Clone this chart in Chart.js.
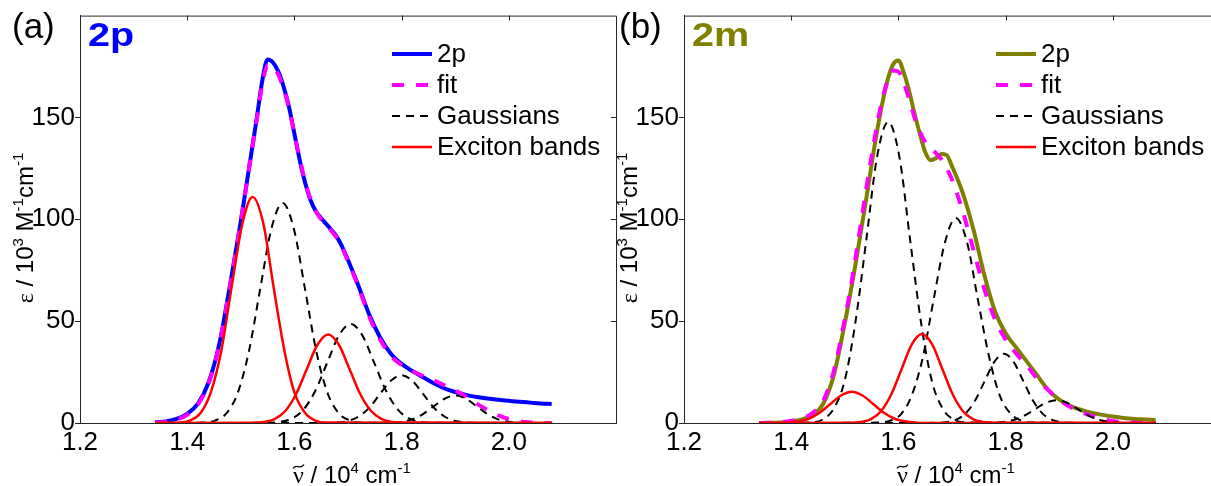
<!DOCTYPE html>
<html>
<head>
<meta charset="utf-8">
<script src="https://cdn.jsdelivr.net/npm/chart.js@4.4.1/dist/chart.umd.min.js"></script>
<style>
  html, body { margin: 0; padding: 0; background: #fff; overflow: hidden; }
  #wrap { position: relative; width: 1211px; height: 486px; overflow: hidden; background: #fff; }
  #wrap canvas { position: absolute; top: 0; }
  #chartA { left: 0; }
  #chartB { left: 604px; }
</style>
</head>
<body>
<div id="wrap">
  <canvas id="chartA" width="620" height="486"></canvas>
  <canvas id="chartB" width="620" height="486"></canvas>
</div>
<script>
// axis ticks
const xTicks = [1.2, 1.4, 1.6, 1.8, 2.0]
const yTicks = [0, 50, 100, 150]

// wavenumber grid (10^4 cm-1) for the measured spectra and the fits
const xGrid = [1.34, 1.36, 1.38, 1.40, 1.42, 1.44, 1.46, 1.48,
  1.50, 1.51, 1.52, 1.53, 1.54, 1.55, 1.56, 1.57, 1.58, 1.59, 1.60,
  1.61, 1.62, 1.63, 1.64, 1.65, 1.66, 1.67, 1.68, 1.69, 1.70,
  1.72, 1.74, 1.76, 1.78, 1.80, 1.82, 1.84, 1.86, 1.88, 1.90,
  1.92, 1.94, 1.96, 1.98, 2.00, 2.02, 2.04, 2.06, 2.08]

// (a) 2p
const spectrumA = [0.3, 0.8, 2, 4.5, 9.5, 20, 39, 68,
  99, 116, 133, 150, 168, 178.5, 177, 172.5, 165, 155, 142,
  129, 118, 109.5, 104, 100.5, 97.5, 94.5, 91, 86, 80,
  67, 53, 42, 34, 29, 25.5, 22.5, 19.5, 17, 15.2,
  13.8, 12.8, 12, 11.4, 10.9, 10.4, 10, 9.6, 9.3]
const fitA = [0.2, 0.6, 1.7, 4, 9, 19.5, 38.5, 67.5,
  99, 116, 133, 149.5, 166, 175.5, 175, 171, 164, 154.5, 142,
  129.5, 118.5, 110, 104, 100, 97, 94, 90.5, 85.5, 79.5,
  66.5, 52, 41, 33, 28.5, 25.5, 23, 21, 18.5, 16,
  13, 9.5, 6.5, 3.8, 2, 0.8, 0.3, 0.1, 0]

const aGauss1X = [1.34, 1.431, 1.452, 1.473, 1.494, 1.515, 1.536, 1.557, 1.578, 1.599, 1.62, 1.641, 1.662, 1.683, 1.704, 1.725, 2.08]
const aGauss1Y = [0, 0.2, 1.2, 4.7, 14.6, 35, 65.5, 95.3, 108, 95.3, 65.5, 35, 14.6, 4.7, 1.2, 0.2, 0]
const aGauss2X = [1.34, 1.551, 1.573, 1.595, 1.617, 1.639, 1.661, 1.683, 1.705, 1.727, 1.749, 1.771, 1.793, 1.815, 1.837, 1.859, 2.08]
const aGauss2Y = [0, 0.1, 0.5, 2.1, 6.6, 15.8, 29.5, 42.9, 48.6, 42.9, 29.5, 15.8, 6.6, 2.1, 0.5, 0.1, 0]
const aGauss3X = [1.34, 1.66, 1.68, 1.70, 1.72, 1.74, 1.76, 1.78, 1.80, 1.82, 1.84, 1.86, 1.88, 1.90, 1.92, 1.94, 2.08]
const aGauss3Y = [0, 0.05, 0.3, 1.0, 3.2, 7.6, 14.3, 20.7, 23.5, 20.7, 14.3, 7.6, 3.2, 1.0, 0.3, 0.05, 0]
const aGauss4X = [1.34, 1.76, 1.78, 1.80, 1.82, 1.84, 1.86, 1.88, 1.90, 1.92, 1.94, 1.96, 1.98, 2.00, 2.02, 2.04, 2.08]
const aGauss4Y = [0, 0.03, 0.15, 0.6, 1.8, 4.4, 8.2, 11.9, 13.5, 11.9, 8.2, 4.4, 1.8, 0.6, 0.15, 0.03, 0]
const aBand1X = [1.34, 1.386, 1.405, 1.425, 1.444, 1.464, 1.483, 1.503, 1.522, 1.542, 1.561, 1.581, 1.600, 1.620, 1.639, 1.659, 2.08]
const aBand1Y = [0, 0.2, 1.2, 4.9, 15, 36, 67, 98, 111, 98, 67, 36, 15, 4.9, 1.2, 0.2, 0]
const aBand2X = [1.34, 1.523, 1.543, 1.563, 1.583, 1.603, 1.623, 1.643, 1.663, 1.683, 1.703, 1.723, 1.743, 1.763, 1.783, 1.803, 2.08]
const aBand2Y = [0, 0.1, 0.5, 1.9, 5.9, 14.1, 26.4, 38.4, 43.5, 38.4, 26.4, 14.1, 5.9, 1.9, 0.5, 0.1, 0]

// (b) 2m
const spectrumB = [0, 0.1, 0.3, 0.8, 1.8, 4, 9.6, 24,
  49, 63, 78, 94, 110, 127, 143, 157, 168.5, 176, 178,
  172, 163, 152, 142, 133, 129, 130, 132, 131.5, 126,
  113, 95, 73, 55, 44, 37, 30, 23, 16, 11.5,
  8.5, 6.5, 5, 4, 3.2, 2.5, 2, 1.7, 1.4]
const fitB = [0, 0.1, 0.4, 1, 2.3, 5, 11, 26,
  51, 65, 81, 98, 115, 131, 146, 159, 168, 173, 172.5,
  167, 159, 150, 143, 138, 135, 132.5, 129.5, 125, 119.5,
  104, 85, 66, 51, 41, 34, 28, 21.5, 16, 11.5,
  8, 5.5, 3.5, 2, 1, 0.4, 0.1, 0, 0]

const bGauss1X = [1.34, 1.437, 1.458, 1.478, 1.499, 1.519, 1.540, 1.560, 1.581, 1.602, 1.622, 1.643, 1.663, 1.684, 1.704, 1.725, 2.08]
const bGauss1Y = [0, 0.3, 1.6, 6.5, 20, 48, 89.6, 130.4, 147.8, 130.4, 89.6, 48, 20, 6.5, 1.6, 0.3, 0]
const bGauss2X = [1.34, 1.564, 1.584, 1.605, 1.625, 1.646, 1.666, 1.687, 1.707, 1.728, 1.748, 1.769, 1.789, 1.810, 1.830, 1.851, 2.08]
const bGauss2Y = [0, 0.2, 1.1, 4.4, 13.6, 32.7, 61, 88.8, 100.6, 88.8, 61, 32.7, 13.6, 4.4, 1.1, 0.2, 0]
const bGauss3X = [1.34, 1.671, 1.689, 1.707, 1.725, 1.743, 1.761, 1.779, 1.797, 1.815, 1.833, 1.851, 1.869, 1.887, 1.905, 1.923, 2.08]
const bGauss3Y = [0, 0.07, 0.4, 1.5, 4.6, 11, 20.6, 30, 34, 30, 20.6, 11, 4.6, 1.5, 0.4, 0.07, 0]
const bGauss4X = [1.34, 1.755, 1.775, 1.795, 1.815, 1.835, 1.855, 1.875, 1.895, 1.915, 1.935, 1.955, 1.975, 1.995, 2.015, 2.035, 2.08]
const bGauss4Y = [0, 0.02, 0.12, 0.5, 1.5, 3.6, 6.8, 9.9, 11.2, 9.9, 6.8, 3.6, 1.5, 0.5, 0.12, 0.02, 0]
const bBand1X = [1.34, 1.373, 1.393, 1.413, 1.433, 1.453, 1.473, 1.493, 1.513, 1.533, 1.553, 1.573, 1.593, 1.613, 1.633, 1.653, 2.08]
const bBand1Y = [0, 0.03, 0.17, 0.7, 2.1, 5.0, 9.3, 13.5, 15.3, 13.5, 9.3, 5.0, 2.1, 0.7, 0.17, 0.03, 0]
const bBand2X = [1.34, 1.511, 1.530, 1.549, 1.568, 1.587, 1.606, 1.625, 1.644, 1.663, 1.682, 1.701, 1.720, 1.739, 1.758, 1.777, 2.08]
const bBand2Y = [0, 0.1, 0.5, 1.9, 5.9, 14.2, 26.5, 38.6, 43.7, 38.6, 26.5, 14.2, 5.9, 1.9, 0.5, 0.1, 0]

const SANS = '"Liberation Sans", Arial, sans-serif'
const SERIF = '"Liberation Serif", "Times New Roman", serif'
Chart.defaults.font.family = SANS
Chart.defaults.color = '#000'

function series(xs, ys) {
  return xs.map((x, i) => ({ x: x, y: ys[i] }))
}

// text with superscripts: parts = [[text, kind]], kind n = normal, s = sup, g = greek serif
function partFont(kind, size) {
  if (kind === 's') return Math.round(size * 0.62) + 'px ' + SANS
  if (kind === 'g') return size + 'px ' + SERIF
  return size + 'px ' + SANS
}
function richWidth(ctx, parts, size) {
  let w = 0
  parts.forEach(p => { ctx.font = partFont(p[1], size); w += ctx.measureText(p[0]).width })
  return w
}
function drawRich(ctx, parts, cx, y, size) {
  let x = cx - richWidth(ctx, parts, size) / 2
  const starts = []
  ctx.textAlign = 'left'
  ctx.textBaseline = 'alphabetic'
  parts.forEach(p => {
    ctx.font = partFont(p[1], size)
    const w = ctx.measureText(p[0]).width
    starts.push([x, w])
    ctx.fillText(p[0], x, p[1] === 's' ? y - size * 0.42 : y)
    x += w
  })
  return starts
}

const decor = {
  id: 'decor',
  beforeDatasetsDraw(chart) {
    const { ctx, chartArea: a, scales } = chart
    ctx.save()
    ctx.strokeStyle = '#262626'
    ctx.lineWidth = 1
    ctx.beginPath()
    ctx.moveTo(a.left, a.top + 0.5); ctx.lineTo(a.right + 0.5, a.top + 0.5)
    ctx.lineTo(a.right + 0.5, a.bottom)
    xTicks.forEach(v => {
      const px = Math.round(scales.x.getPixelForValue(v)) + 0.5
      ctx.moveTo(px, a.top); ctx.lineTo(px, a.top + 5)
    })
    yTicks.forEach(v => {
      const py = Math.round(scales.y.getPixelForValue(v)) + 0.5
      ctx.moveTo(a.right, py); ctx.lineTo(a.right - 5, py)
    })
    ctx.stroke()
    ctx.restore()
  },
  afterDraw(chart, args, opts) {
    const { ctx, chartArea: a } = chart
    ctx.save()
    ctx.fillStyle = '#000'

    // panel tag
    ctx.font = '35px ' + SANS
    ctx.textAlign = 'left'
    ctx.textBaseline = 'alphabetic'
    ctx.fillText(opts.tag, opts.tagX, 38)

    // compound name, wide bold
    ctx.save()
    ctx.fillStyle = opts.nameColor
    ctx.font = 'bold 33px ' + SANS
    ctx.translate(a.left + 8, 46)
    ctx.scale(1.2, 1)
    ctx.fillText(opts.name, 0, 0)
    ctx.restore()

    // legend
    const rows = []
    chart.data.datasets.forEach(ds => {
      if (!rows.some(r => r.label === ds.label)) rows.push(ds)
    })
    ctx.font = '26px ' + SANS
    ctx.textBaseline = 'middle'
    rows.forEach((ds, i) => {
      const y = 54 + i * 31
      ctx.save()
      ctx.strokeStyle = ds.borderColor
      ctx.lineWidth = ds.borderWidth
      ctx.setLineDash(ds.borderDash || [])
      ctx.beginPath()
      ctx.moveTo(a.left + 312, y); ctx.lineTo(a.left + 352, y)
      ctx.stroke()
      ctx.restore()
      ctx.fillText(ds.label, a.left + 357, y + 1)
    })

    // x title with tilde over nu
    const xParts = [['\u03BD', 'g'], [' / 10', 'n'], ['4', 's'], [' cm', 'n'], ['-1', 's']]
    const st = drawRich(ctx, xParts, (a.left + a.right) / 2 + 4, 483, 24)
    const tx = st[0][0] + st[0][1] / 2
    ctx.strokeStyle = '#000'
    ctx.lineWidth = 1.3
    ctx.beginPath()
    ctx.moveTo(tx - 5.5, 468.5)
    ctx.bezierCurveTo(tx - 2.5, 462.5, tx + 1.5, 471, tx + 5.5, 464.5)
    ctx.stroke()

    // y title
    ctx.save()
    ctx.translate(33, 228)
    ctx.rotate(-Math.PI / 2)
    const yParts = [['\u03B5', 'g'], [' / 10', 'n'], ['3', 's'], [' M', 'n'], ['-1', 's'], ['cm', 'n'], ['-1', 's']]
    drawRich(ctx, yParts, 0, 0, 24)
    ctx.restore()

    ctx.restore()
  }
}

function makePanel(canvasId, p) {
  const line = { pointRadius: 0, fill: false, cubicInterpolationMode: 'monotone', borderCapStyle: 'butt' }
  const datasets = [
    Object.assign({ label: '2p', data: series(xGrid, p.main), borderColor: p.mainColor, borderWidth: 4, order: 4 }, line),
    Object.assign({ label: 'fit', data: series(xGrid, p.fit), borderColor: '#ff00ff', borderWidth: 4, borderDash: [12, 12], order: 3 }, line)
  ]
  p.gauss.forEach(g => datasets.push(Object.assign({ label: 'Gaussians', data: series(g[0], g[1]),
    borderColor: '#000000', borderWidth: 2, borderDash: [8, 6], order: 2 }, line)))
  p.bands.forEach(b => datasets.push(Object.assign({ label: 'Exciton bands', data: series(b[0], b[1]),
    borderColor: '#ff0000', borderWidth: 2.5, order: 1 }, line)))

  return new Chart(document.getElementById(canvasId), {
    type: 'line',
    data: { datasets: datasets },
    plugins: [decor],
    options: {
      responsive: false,
      animation: false,
      layout: { padding: { top: 13, right: 4, left: 0, bottom: 0 } },
      plugins: {
        legend: { display: false },
        tooltip: { enabled: false },
        decor: { tag: p.tag, tagX: p.tagX, name: p.name, nameColor: p.nameColor }
      },
      scales: {
        x: {
          type: 'linear', min: 1.2, max: 2.2,
          afterBuildTicks: s => { s.ticks = xTicks.map(v => ({ value: v })) },
          afterFit: s => { s.height = 63 },
          grid: { drawOnChartArea: false, drawTicks: false },
          border: { display: true, color: '#262626', width: 1 },
          ticks: { padding: 4, color: '#000', font: { size: 26 }, maxRotation: 0, autoSkip: false,
            callback: v => Number(v).toFixed(1) }
        },
        y: {
          min: 0, max: 200,
          afterBuildTicks: s => { s.ticks = yTicks.map(v => ({ value: v })) },
          afterFit: s => { s.width = 80 },
          grid: { drawOnChartArea: false, drawTicks: true, tickLength: 5, color: '#262626' },
          border: { display: true, color: '#262626', width: 1 },
          ticks: { padding: 0, color: '#000', font: { size: 26 }, callback: v => String(v) }
        }
      }
    }
  })
}

makePanel('chartA', {
  tag: '(a)', tagX: 12, name: '2p', nameColor: '#0000ff', mainColor: '#0000ff',
  main: spectrumA, fit: fitA,
  gauss: [[aGauss1X, aGauss1Y], [aGauss2X, aGauss2Y], [aGauss3X, aGauss3Y], [aGauss4X, aGauss4Y]],
  bands: [[aBand1X, aBand1Y], [aBand2X, aBand2Y]]
})

makePanel('chartB', {
  tag: '(b)', tagX: 15, name: '2m', nameColor: '#808000', mainColor: '#808000',
  main: spectrumB, fit: fitB,
  gauss: [[bGauss1X, bGauss1Y], [bGauss2X, bGauss2Y], [bGauss3X, bGauss3Y], [bGauss4X, bGauss4Y]],
  bands: [[bBand1X, bBand1Y], [bBand2X, bBand2Y]]
})
</script>
</body>
</html>
